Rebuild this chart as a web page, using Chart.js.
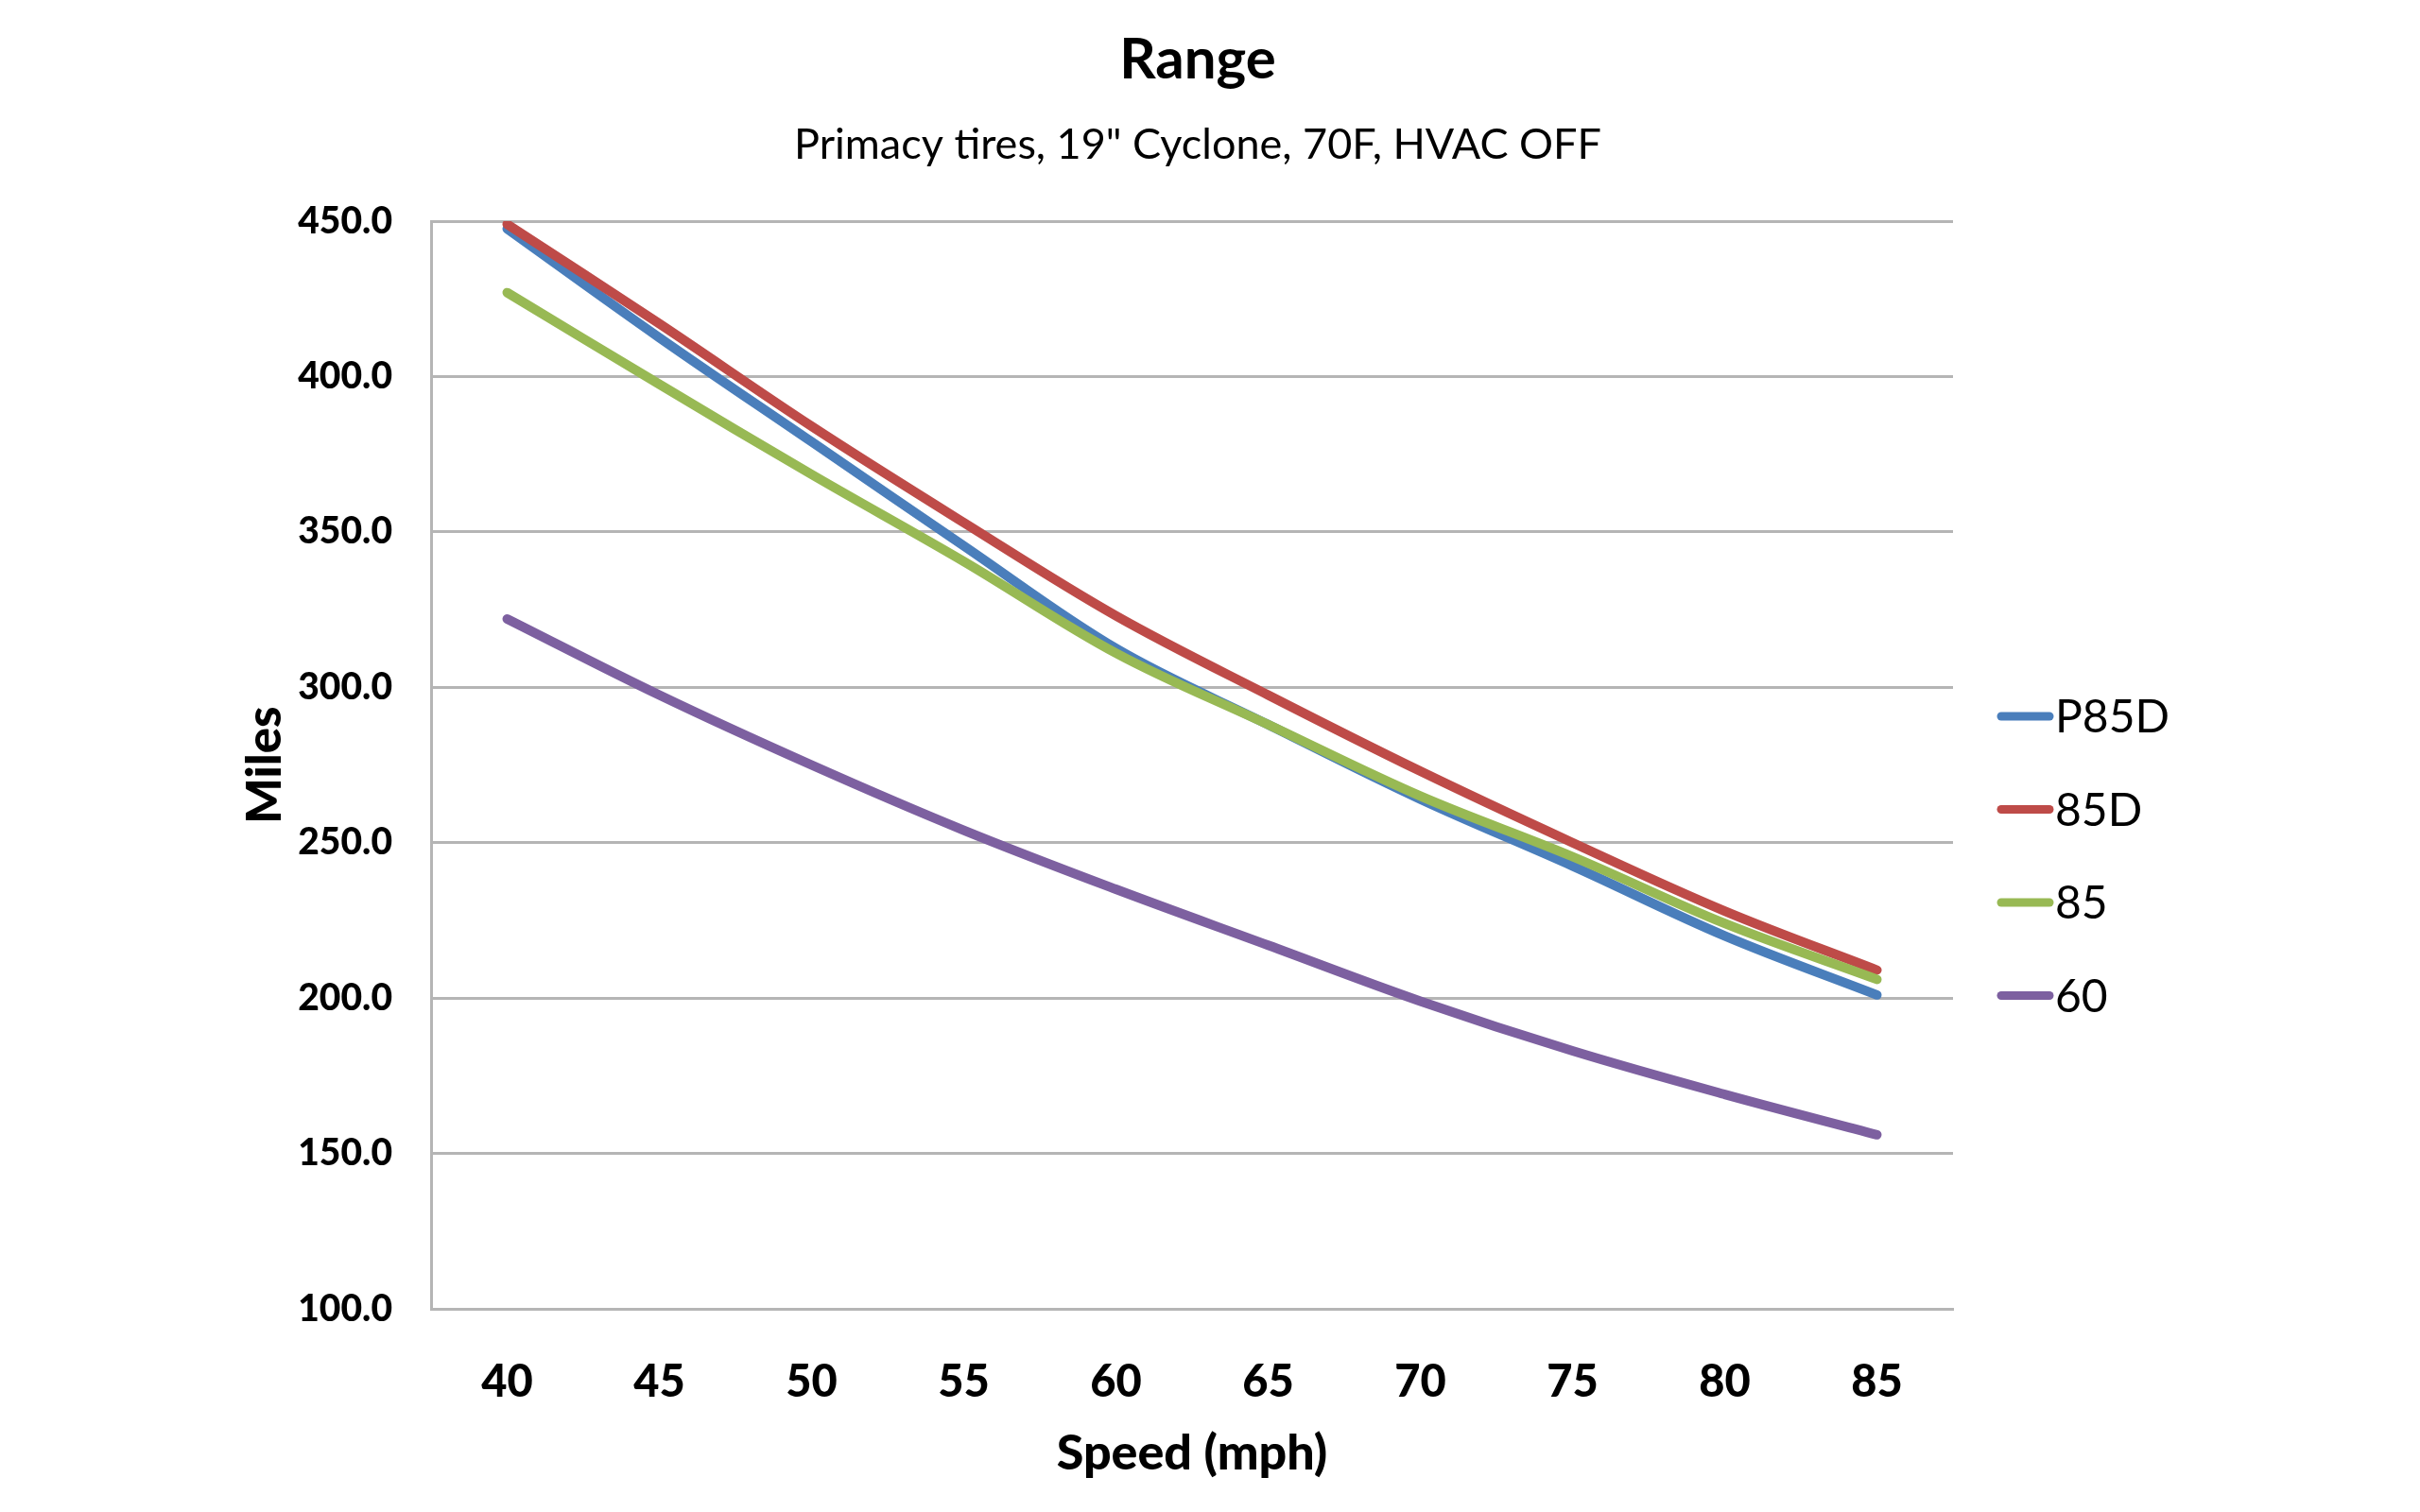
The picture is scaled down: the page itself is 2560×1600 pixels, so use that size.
<!DOCTYPE html>
<html>
<head>
<meta charset="utf-8">
<title>Range</title>
<script src="https://cdn.jsdelivr.net/npm/chart.js@4.4.1/dist/chart.umd.min.js"></script>
<style>
    html, body { margin: 0; padding: 0; background: #fff; }
    #wrap { width: 2560px; height: 1600px; }
</style>
</head>
<body>
<div id="wrap"><canvas id="rangeChart"></canvas></div>
<script>
const TITLE = 'Range';
const SUBTITLE = 'Primacy tires, 19" Cyclone, 70F, HVAC OFF';

const speeds = ['40', '45', '50', '55', '60', '65', '70', '75', '80', '85'];

const rangeP85D = [447.5, 412.5, 379, 345.5, 312.5, 288, 264, 242.5, 220, 201];
const range85D  = [449, 417, 384, 353, 323, 297.5, 273, 250, 228, 209];
const range85   = [427, 397.5, 368.5, 340.5, 311, 288, 265, 245.5, 224, 206];
const range60   = [322, 297.5, 275, 254, 235, 217, 199, 183, 169, 156];

const seriesNames = ['P85D', '85D', '85', '60'];
const seriesValues = [rangeP85D, range85D, range85, range60];
const seriesColors = ['#4a7ebb', '#be4b48', '#98b954', '#7d60a0'];

const GRID = '#b5b5b5';
const FONT = 'Lato, "Open Sans", sans-serif';

// title, subtitle and the legend on the right, drawn by hand like the original
const headerAndLegend = {
    id: 'headerAndLegend',
    afterDraw(chart) {
        const {ctx} = chart;
        ctx.save();
        ctx.fillStyle = '#000';
        ctx.textAlign = 'center';
        ctx.textBaseline = 'alphabetic';
        ctx.font = `bold 60px ${FONT}`;
        ctx.fillText(TITLE, 1267, 83);
        ctx.font = `45px ${FONT}`;
        ctx.fillText(SUBTITLE, 1267, 168);

        ctx.lineCap = 'round';
        ctx.textAlign = 'left';
        ctx.textBaseline = 'middle';
        ctx.font = `48px ${FONT}`;
        chart.data.datasets.forEach((ds, i) => {
            const y = 758 + i * 98.5;
            ctx.strokeStyle = ds.borderColor;
            ctx.lineWidth = 9;
            ctx.beginPath();
            ctx.moveTo(2117, y);
            ctx.lineTo(2168, y);
            ctx.stroke();
            ctx.fillText(ds.label, 2174, y + 2);
        });
        ctx.restore();
    },
};

new Chart(document.getElementById('rangeChart'), {
    type: 'line',
    data: {
        labels: speeds,
        datasets: seriesNames.map((name, i) => ({
            label: name,
            data: seriesValues[i],
            borderColor: seriesColors[i],
            backgroundColor: seriesColors[i],
            borderWidth: 10,
            borderCapStyle: 'round',
            borderJoinStyle: 'round',
            pointRadius: 0,
            tension: 0.35,
            order: seriesNames.length - i,
        })),
    },
    options: {
        responsive: true,
        maintainAspectRatio: false,
        devicePixelRatio: 1,
        animation: false,
        layout: { padding: { top: 234, right: 494, bottom: 0, left: 0 } },
        plugins: {
            legend: { display: false },
            title: { display: false },
            tooltip: { enabled: false },
        },
        scales: {
            x: {
                offset: true,
                grid: { display: false },
                border: { display: true, color: GRID, width: 3 },
                ticks: { color: '#000', font: { family: FONT, size: 47, weight: '900' }, padding: 42 },
                title: {
                    display: true,
                    text: 'Speed (mph)',
                    color: '#000',
                    font: { family: FONT, size: 52, weight: '900' },
                    padding: { top: 0, bottom: 31 },
                },
                afterFit: (scale) => { scale.height = 215; },
            },
            y: {
                min: 100,
                max: 450,
                grid: { color: GRID, lineWidth: 3, drawTicks: false },
                border: { display: true, color: GRID, width: 3 },
                ticks: {
                    stepSize: 50,
                    color: '#000',
                    font: { family: FONT, size: 39, weight: '900' },
                    padding: 41,
                    callback: (v) => v.toFixed(1),
                },
                title: {
                    display: true,
                    text: 'Miles',
                    color: '#000',
                    font: { family: FONT, size: 51, weight: '900' },
                    padding: { top: 250, bottom: 0 },
                },
                afterFit: (scale) => { scale.width = 456; },
            },
        },
    },
    plugins: [headerAndLegend],
});
</script>
</body>
</html>
